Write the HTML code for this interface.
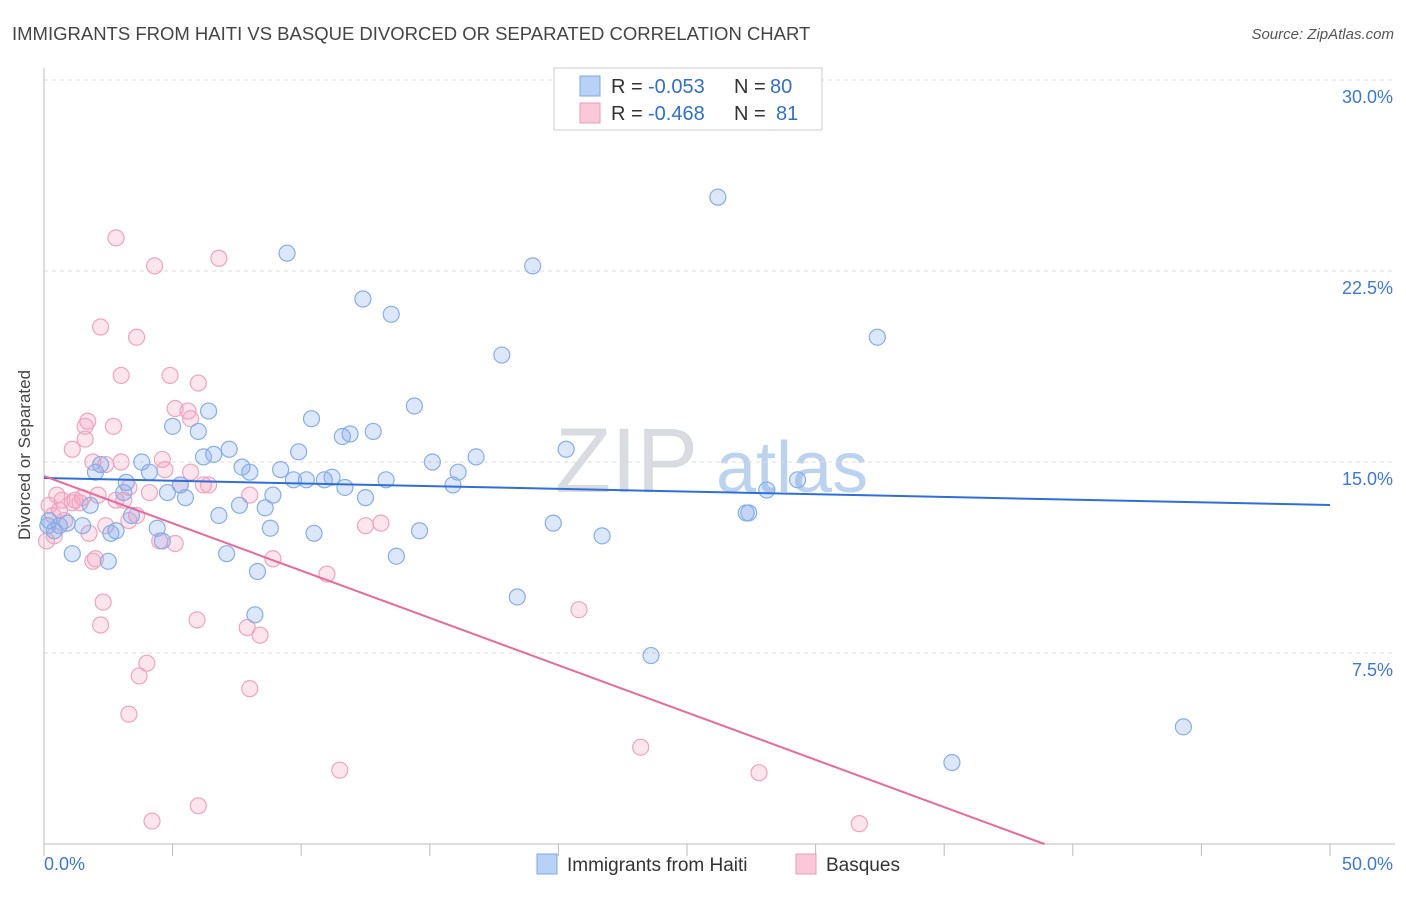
<!DOCTYPE html>
<html><head><meta charset="utf-8"><style>
body{margin:0;background:#fff;font-family:"Liberation Sans",sans-serif;}
svg text{font-family:"Liberation Sans",sans-serif;}
</style></head><body>
<svg id="chart" width="1406" height="892">
<text x="12" y="40" font-size="18.5" fill="#444">IMMIGRANTS FROM HAITI VS BASQUE DIVORCED OR SEPARATED CORRELATION CHART</text>
<text x="1394" y="39" font-size="15" fill="#555" font-style="italic" text-anchor="end">Source: ZipAtlas.com</text>
<text x="30" y="455" font-size="17" fill="#444" text-anchor="middle" transform="rotate(-90 30 455)">Divorced or Separated</text>
<g><text x="555" y="492" font-size="92" font-family="Liberation Serif" fill="#d8dbe0">ZIP</text><text x="716" y="492" font-size="72" fill="#bcd3ef">atlas</text></g>
<g id="grid"></g><g id="axes"></g><g id="pts"></g><g id="lines"></g>
<g>
<rect x="554" y="68" width="268" height="62" fill="#fff" stroke="#ccc"/>
<rect x="580" y="76" width="20" height="20" fill="#b8d2f5" stroke="#7ea8e6"/>
<rect x="580" y="103" width="20" height="20" fill="#fac8d8" stroke="#ee9bb8"/>
<text x="611" y="93" font-size="20" fill="#333">R =</text>
<text x="648" y="93" font-size="20" fill="#2f6fd1">-0.053</text>
<text x="734" y="93" font-size="20" fill="#333">N =</text>
<text x="770" y="93" font-size="20" fill="#2f6fd1">80</text>
<text x="611" y="120" font-size="20" fill="#333">R =</text>
<text x="648" y="120" font-size="20" fill="#2f6fd1">-0.468</text>
<text x="734" y="120" font-size="20" fill="#333">N =</text>
<text x="776" y="120" font-size="20" fill="#2f6fd1">81</text>
</g>
<g>
<rect x="537" y="854" width="20" height="20" fill="#b8d2f5" stroke="#7ea8e6"/>
<text x="567" y="871" font-size="19" fill="#333">Immigrants from Haiti</text>
<rect x="796" y="854" width="20" height="20" fill="#fac8d8" stroke="#ee9bb8"/>
<text x="826" y="871" font-size="19" fill="#333">Basques</text>
</g>
</svg>
<script>
const yTicks=[7.5,15,22.5,30];
const yTickLabels=["7.5%","15.0%","22.5%","30.0%"];
const xTicks=[0,5,10,15,20,25,30,35,40,45,50];
const haitiX=[26.2,9.45,19.0,12.4,13.5,32.4,17.8,14.4,6.4,10.4,5.0,6.0,12.8,11.6,11.9,7.2,9.9,6.6,6.2,16.8,15.1,20.3,2.2,3.8,7.7,8.0,9.2,16.1,2.0,4.1,10.2,10.9,11.2,9.7,13.3,15.9,11.7,3.2,5.3,29.3,28.1,3.1,4.8,5.5,8.9,12.5,1.8,7.6,8.6,6.8,3.4,27.3,27.4,19.8,4.4,8.8,0.9,1.5,2.8,2.6,21.7,14.6,10.5,4.6,1.1,7.1,13.7,2.5,8.3,18.4,8.2,23.6,44.3,35.3,0.2,0.4,0.6,0.15];
const haitiY=[25.4,23.2,22.7,21.4,20.8,19.9,19.2,17.2,17.0,16.7,16.4,16.2,16.2,16.0,16.1,15.5,15.4,15.3,15.2,15.2,15.0,15.5,14.9,15.0,14.8,14.6,14.7,14.6,14.6,14.6,14.3,14.3,14.4,14.3,14.3,14.1,14.0,14.2,14.1,14.3,13.9,13.8,13.8,13.6,13.7,13.6,13.3,13.3,13.2,12.9,12.9,13.0,13.0,12.6,12.4,12.4,12.6,12.5,12.3,12.2,12.1,12.3,12.2,11.9,11.4,11.4,11.3,11.1,10.7,9.7,9.0,7.4,4.6,3.2,12.7,12.3,12.5,12.5];
const basqueX=[2.8,4.3,6.8,2.2,3.6,3.0,4.9,6.0,5.1,5.6,5.7,1.7,2.7,1.6,1.6,1.1,4.6,1.9,2.4,3.0,4.7,5.7,6.4,6.2,5.3,2.1,3.3,8.0,4.1,1.5,1.2,0.5,0.7,1.1,1.4,2.8,3.1,0.6,0.8,0.2,0.35,3.3,3.6,2.4,1.75,12.5,13.1,2.0,1.9,8.9,5.1,4.5,11.0,2.3,20.8,2.2,5.95,7.9,8.4,4.0,3.7,8.0,3.3,23.2,11.5,27.8,6.0,4.2,31.7,0.1,0.4];
const basqueY=[23.8,22.7,23.0,20.3,19.9,18.4,18.4,18.1,17.1,17.0,16.7,16.6,16.4,16.4,15.9,15.5,15.1,15.0,14.9,15.0,14.7,14.6,14.1,14.1,14.1,13.7,14.0,13.7,13.8,13.6,13.5,13.7,13.5,13.4,13.4,13.5,13.5,13.1,12.7,13.3,12.9,12.7,12.9,12.5,12.2,12.5,12.6,11.2,11.1,11.2,11.8,11.9,10.6,9.5,9.2,8.6,8.8,8.5,8.2,7.1,6.6,6.1,5.1,3.8,2.9,2.8,1.5,0.9,0.8,11.9,12.1];
const haitiTrend=[14.37,13.31];
const basqueTrend=[14.45,-0.3715];
const X0=44,X1=1330,Y0=844,Y30=80;
const sx=v=>X0+(X1-X0)*v/50;
const sy=v=>Y0-(Y0-Y30)*v/30;
const NS="http://www.w3.org/2000/svg";
function mk(parent,tag,attrs){const e=document.createElementNS(NS,tag);for(const k in attrs)e.setAttribute(k,attrs[k]);document.getElementById(parent).appendChild(e);return e;}
yTicks.forEach((t,i)=>{
 const g=mk('grid','line',{x1:X0,x2:1395,y1:sy(t),y2:sy(t),stroke:'#ddd','stroke-dasharray':'4,4'});
 
 
 const l=mk('grid','text',{x:1393,y:sy(t)+23,'text-anchor':'end','font-size':18,fill:'#3b78d8'});
 l.textContent=yTickLabels[i];
 
 
});
const ax=mk('axes','line',{x1:X0,x2:1395,y1:Y0,y2:Y0,stroke:'#bbb'});


const ay=mk('axes','line',{x1:X0,x2:X0,y1:68,y2:Y0,stroke:'#bbb'});


xTicks.forEach(t=>{
 const k=mk('axes','line',{x1:sx(t),x2:sx(t),y1:Y0,y2:Y0+12,stroke:'#bbb'});
 
 
});
const xl0=mk('axes','text',{x:X0,y:870,'font-size':18,fill:'#3b78d8'});xl0.textContent='0.0%';


const xl1=mk('axes','text',{x:1393,y:870,'font-size':18,fill:'#3b78d8','text-anchor':'end'});xl1.textContent='50.0%';


basqueX.forEach((v,i)=>{
 const c=mk('pts','circle',{cx:sx(v),cy:sy(basqueY[i]),r:8,fill:'rgba(245,160,190,0.28)',stroke:'#f0a3bf','stroke-width':1.2});
 
 
});
haitiX.forEach((v,i)=>{
 const c=mk('pts','circle',{cx:sx(v),cy:sy(haitiY[i]),r:8,fill:'rgba(130,170,235,0.28)',stroke:'#86aee8','stroke-width':1.2});
 
 
});
const hl=mk('lines','line',{x1:sx(0),y1:sy(haitiTrend[0]),x2:sx(50),y2:sy(haitiTrend[1]),stroke:'#2f6fd6','stroke-width':2});


const xEnd=-basqueTrend[0]/basqueTrend[1];
const bl=mk('lines','line',{x1:sx(0),y1:sy(basqueTrend[0]),x2:sx(xEnd),y2:sy(0),stroke:'#e8699b','stroke-width':2});


</script>
</body></html>
